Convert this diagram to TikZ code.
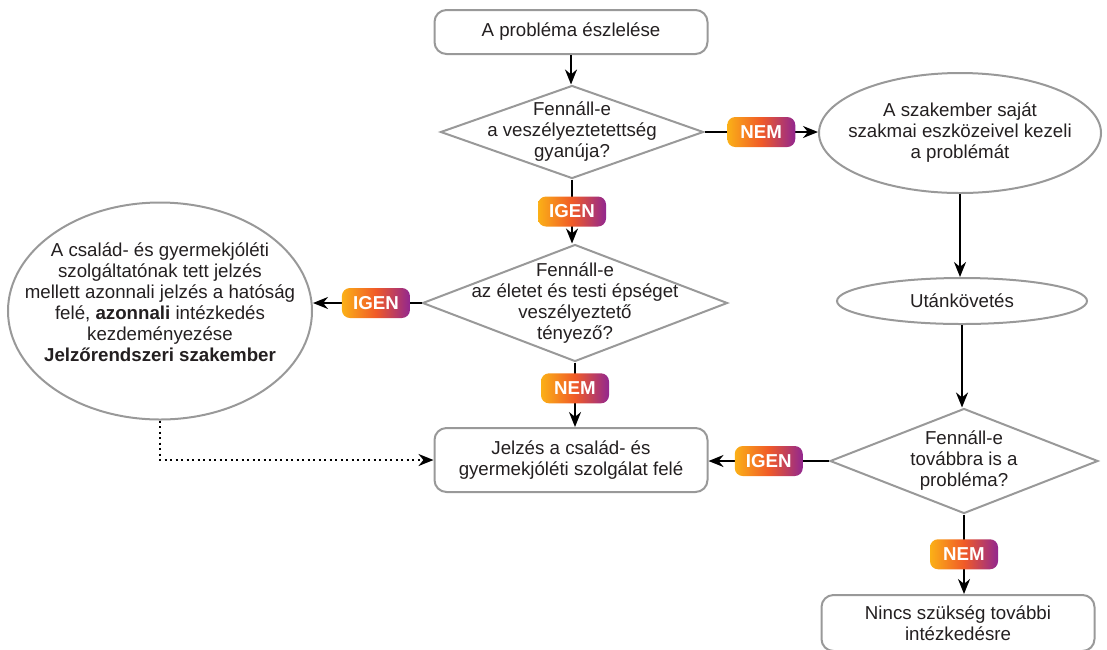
\documentclass[tikz,border=0pt]{standalone}
\usepackage{fontspec}
\setmainfont{Liberation Sans}
\usetikzlibrary{shapes.geometric,arrows.meta}
\definecolor{bordergray}{HTML}{999999}
\definecolor{textc}{HTML}{231F20}
\definecolor{gradA}{HTML}{FBB017}
\definecolor{gradB}{HTML}{F05A28}
\definecolor{gradC}{HTML}{92278F}
\begin{document}
\begin{tikzpicture}
[
    x=1pt, y=-1pt,
    txt/.style={align=center, text=textc, font=\fontsize{18.7}{21}\selectfont},
    box/.style={draw=bordergray, line width=2pt, rounded corners=12pt, fill=white, txt, inner sep=0pt},
    decision/.style={diamond, draw=bordergray, line width=2pt, inner sep=0pt},
    oval/.style={ellipse, draw=bordergray, line width=2pt, inner sep=0pt, txt},
    badge/.style={rounded corners=8pt, left color=gradA, right color=gradC, middle color=gradB,
        text=white, font=\fontsize{18.7}{21}\selectfont\bfseries, minimum width=68pt, minimum height=30pt, inner sep=0pt},
    arr/.style={-{Stealth[length=15pt,width=12pt]}, line width=2pt},
]
\useasboundingbox (0,0) rectangle (1107,649);
\node[box, minimum width=273, minimum height=44] (start) at (571,32) {A probléma észlelése};
\node[decision, minimum width=263, minimum height=93,
    label={[txt]center:{Fennáll-e\\a veszélyeztetettség\\gyanúja?}}] (dec1) at (572,132) {};
\node[oval, minimum width=282, minimum height=120,
    label={[txt]center:{A szakember saját\\szakmai eszközeivel kezeli\\a problémát}}] (kezel) at (960,133) {};
\node[decision, minimum width=305, minimum height=117,
    label={[txt]center:{Fennáll-e\\az életet és testi épséget\\veszélyeztető\\tényező?}}] (dec2) at (575,303) {};
\node[oval, minimum width=304, minimum height=217,
    label={[txt,yshift=9pt]center:{A család- és gyermekjóléti\\szolgáltatónak tett jelzés\\mellett azonnali jelzés a hatóság\\felé, \textbf{azonnali} intézkedés\\kezdeményezése\\\textbf{Jelzőrendszeri szakember}}}] (hatosag) at (160,311) {};
\node[oval, minimum width=250, minimum height=46] (kovet) at (962,301) {Utánkövetés};
\node[box, minimum width=273, minimum height=64] (jelzes) at (571,460) {Jelzés a család- és\\gyermekjóléti szolgálat felé};
\node[decision, minimum width=268, minimum height=105,
    label={[txt]center:{Fennáll-e\\továbbra is a\\probléma?}}] (dec3) at (964,461) {};
\node[box, minimum width=273, minimum height=56] (vege) at (958,623) {Nincs szükség további\\intézkedésre};

\draw[arr] (start.south) -- (start.south |- dec1.north);
\draw[arr] (dec1.east) -- node[badge]{NEM} (dec1.east -| kezel.west);
\draw[arr] (dec1.south) -- node[badge]{IGEN} (dec1.south |- dec2.north);
\draw[arr] (dec2.west) -- node[badge, pos=0.42]{IGEN} (dec2.west -| hatosag.east);
\draw[arr] (dec2.south) -- node[badge, pos=0.4]{NEM} (dec2.south |- jelzes.north);
\draw[arr] (kezel.south) -- (kezel.south |- kovet.north);
\draw[arr] (kovet.south) -- (kovet.south |- dec3.north);
\draw[arr] (dec3.west) -- node[badge]{IGEN} (dec3.west -| jelzes.east);
\draw[arr] (dec3.south) -- node[badge]{NEM} (dec3.south |- vege.north);
\draw[arr, dash pattern=on 2pt off 3.5pt] (hatosag.south) |- (jelzes.west);
\end{tikzpicture}
\end{document}
